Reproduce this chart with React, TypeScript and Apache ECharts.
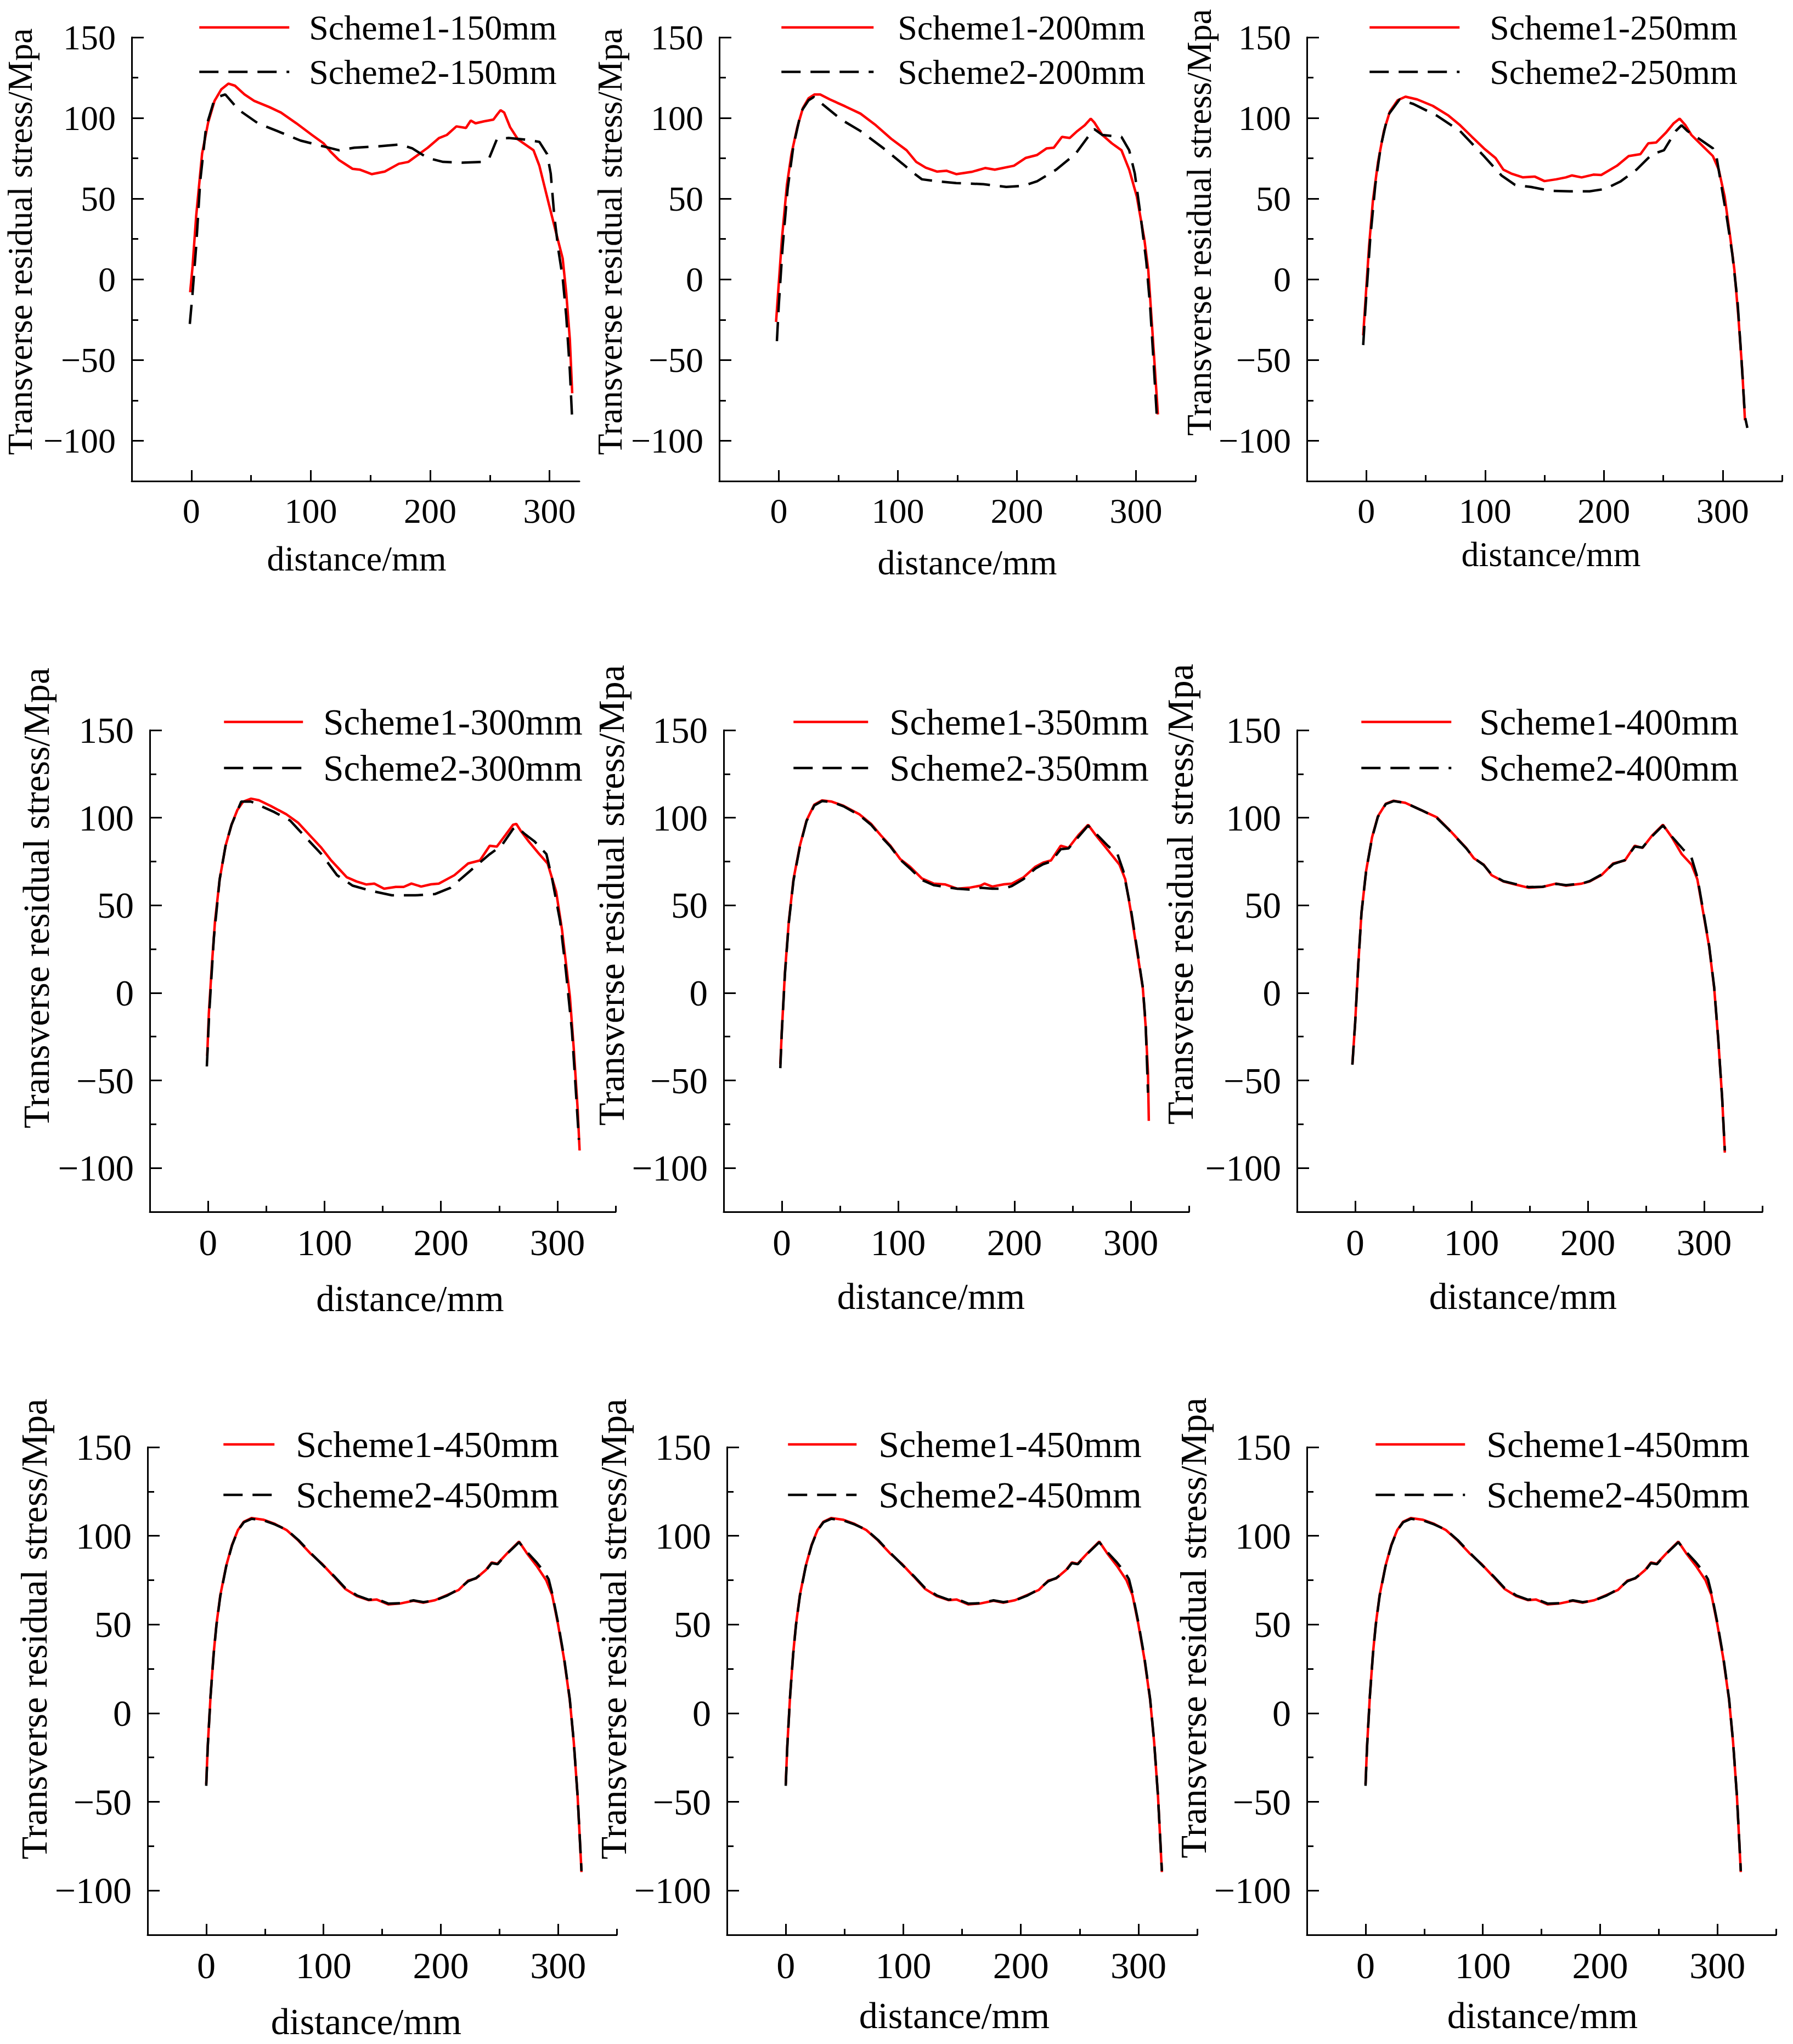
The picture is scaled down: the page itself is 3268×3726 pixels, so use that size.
import * as echarts from 'echarts';
import React, { useEffect, useRef } from 'react';

type Pt = [number, number];

// Transverse residual stress (MPa) against distance (mm).
const s1_150: Pt[] = [
  [-1, -8], [1, 8], [4, 39], [9, 78], [14, 97], [19.4, 110.6], [25, 117.7], [31, 121.3], [36.5, 120],
  [44.5, 114.6], [52.6, 110.6], [65.5, 106.7], [75, 103.4], [88, 96.7], [101, 89.5], [110.7, 84.3],
  [117, 78.8], [123.6, 74], [135, 68.5], [141, 68], [151, 65.2], [162, 66.8], [173.7, 71.6], [181.7, 72.8],
  [191.4, 78], [198, 81.6], [207.5, 87.6], [214, 89.5], [222, 94.8], [230, 93.8], [234, 98.4], [238, 96.7],
  [245, 97.9], [253, 99], [256, 102], [259, 104.8], [262, 103.4], [267, 94.3], [273.6, 86.7], [286.6, 80],
  [291.5, 70.4], [299.5, 46.5], [306, 27.4], [311, 13], [314, -8.5], [317, -37], [319, -70.6],
];
const s2_150: Pt[] = [
  [-1.3, -27.6], [1, -8.5], [4, 20.2], [7.4, 60.8], [12.3, 94.3], [18.7, 110], [24, 113.5], [28.4, 114.6],
  [39.7, 105], [55.8, 96.7], [72, 91.9], [91.4, 86], [110.7, 82.4], [123.6, 80], [136.5, 81.6], [156, 82.4],
  [175, 83.6], [185, 81.2], [198, 75.2], [210.8, 72.8], [227, 72.3], [243, 72.8], [249.5, 75.2], [256, 87],
  [265.7, 87.6], [278.6, 86.7], [291.5, 85.2], [298, 77.6], [301, 65.6], [304, 39.3], [307.5, 17.8], [311, 1],
  [314, -22.8], [317, -56.3], [319, -87.3],
];

const s1_200: Pt[] = [
  [-2.3, -26.4], [-0.6, -8.5], [2.6, 25], [6.8, 58.5], [10.6, 77.6], [15.5, 94.3], [20.3, 106.3], [25, 112.2],
  [30, 114.6], [34.8, 114.6], [42.9, 111.5], [55.8, 107.2], [68.6, 102.7], [81.5, 95.5], [94.4, 87.1],
  [107.3, 80], [115.4, 72.8], [123.4, 69.2], [133, 66.8], [141, 67.3], [149, 65.2], [162, 66.6], [173.3, 69],
  [181.4, 68], [197.5, 70.4], [207.2, 75.2], [217, 77.1], [225, 81.2], [231, 81.6], [237.8, 88.3], [244.3, 87.6],
  [250.7, 91.9], [257, 95.5], [262, 99.6], [265, 97.2], [271.7, 89.5], [279.7, 84.3], [287.8, 80], [294.3, 68],
  [300.7, 51.3], [307, 25], [310.3, 5.9], [313.6, -30], [316.8, -65.8], [318.4, -83.7],
];
const s2_200: Pt[] = [
  [-1.6, -38.3], [0, -15.6], [3.2, 20.2], [7.4, 56], [12.2, 82.4], [18.7, 103.9], [25, 111], [29.3, 113],
  [36.4, 108.7], [52.5, 99], [68.6, 91.9], [88, 81.2], [104, 71.6], [113.7, 65.6], [120.2, 62], [133, 60.8],
  [149, 59.7], [171.8, 59], [191, 57.3], [205.6, 58], [217, 60.8], [233, 68], [249, 77.6], [260.4, 89],
  [265, 93.1], [271.7, 89.5], [287.8, 88.3], [294.3, 80], [299, 65.6], [303.9, 39.3], [308.7, 10.7], [312, -18],
  [315, -53.9], [317.4, -83.7],
];

const s1_250: Pt[] = [
  [-2.6, -34.7], [-0.7, -13.2], [2.3, 20.2], [5.6, 48.9], [9.9, 72.8], [14.8, 91.9], [19.8, 103.9], [26.4, 111],
  [33, 113.2], [42.9, 111.5], [56, 107.5], [69.2, 101.5], [79, 95.5], [89, 88.3], [99, 81.2], [108.8, 75.2],
  [115.4, 68], [122, 65.6], [131.9, 63.2], [141.8, 63.7], [150, 60.9], [159.9, 62], [168, 63.2], [173, 64.4],
  [181.3, 63.2], [191.2, 64.9], [197.8, 64.7], [211, 70.4], [220.9, 76.4], [230.8, 77.6], [237.4, 84.3],
  [244, 84.8], [252, 90.7], [258.8, 96.7], [263.8, 99.6], [268.7, 95.5], [273.7, 89.5], [283.5, 82.4],
  [291.8, 76.4], [296.7, 68], [301.7, 51.3], [306.6, 25], [309.9, 5.9], [313.2, -22.8], [316.5, -56.3],
  [318.8, -87.3],
];
const s2_250: Pt[] = [
  [-2.6, -40.7], [-0.7, -18], [3.3, 25], [7.6, 58.5], [12.2, 82.4], [18.1, 101.5], [28, 111.5], [39.6, 108.7],
  [59.3, 101.5], [79, 91.9], [99, 76.4], [113.8, 64.4], [125.3, 58.5], [138.5, 57.3], [155, 54.9],
  [171.5, 54.6], [188, 54.6], [201, 56], [214.3, 60.8], [227.5, 68], [240.7, 77.6], [250.6, 80], [260.5, 91.9],
  [265.4, 95.5], [270.4, 91.9], [280.3, 87.1], [291.8, 81.2], [295, 75.2], [298.3, 60.8], [303.3, 39.3],
  [308.2, 15.4], [312.5, -13.2], [315.8, -49], [318.8, -85], [320.8, -92],
];

const s1_300: Pt[] = [
  [-0.7, -36], [0.7, -12], [3.4, 16.8], [6, 40.8], [10, 64.8], [15.1, 84], [20.2, 96], [25.2, 104.4],
  [30.2, 109.2], [37, 110.9], [43.7, 110], [53.7, 106.8], [67.2, 102], [77.3, 97.2], [87.3, 90], [97.4, 82.8],
  [105.8, 75.6], [112.5, 70.8], [119.2, 66], [127.6, 63.6], [136, 61.9], [142.8, 62.4], [151.2, 59.5],
  [161.2, 60.5], [168, 60.5], [174.7, 62.4], [183, 60.7], [191.5, 62], [198.2, 62.4], [211.6, 67.2],
  [223.4, 73.9], [233.5, 75.6], [241.9, 84], [248, 83.5], [255.3, 90], [262, 96], [264.7, 96.5], [268.7, 92.4],
  [275.5, 86.4], [283.9, 79.7], [291.6, 73.9], [299, 57.6], [304, 36], [307.4, 16.8], [310.8, -2.4],
  [314, -31.1], [317.5, -67.1], [319.1, -90],
];
const s2_300: Pt[] = [
  [-1, -42], [1, -12], [5, 31.2], [10, 64.8], [15.1, 84], [20.2, 96], [28.5, 109.2], [37, 109.2], [57, 103.2],
  [70.5, 98.4], [83.9, 88.8], [97.4, 79.2], [110.8, 67.2], [124.3, 61.2], [141, 58.1], [157.9, 55.7],
  [178, 55.7], [194.8, 56.4], [208.2, 60], [225, 69.6], [241.9, 79.2], [252, 84], [262, 93.6], [265.4, 94.8],
  [272, 90.7], [280.5, 86.4], [290.6, 79.2], [295.6, 64.8], [302.4, 40.8], [307.4, 12], [312.5, -21.5],
  [315.8, -55.1], [318.5, -83.9],
];

const s1_350: Pt[] = [
  [-1.3, -40.7], [0, -21.5], [2.7, 12], [6, 40.8], [10, 64.8], [15.5, 84], [21.2, 98.4], [27.9, 107.5],
  [34.6, 109.9], [43, 109.2], [53.1, 106.8], [66.6, 102], [76.7, 96.5], [85, 90], [93.4, 84], [101.9, 76.3],
  [110.3, 72], [120.4, 65.3], [130.5, 62.4], [140.6, 61.9], [150.7, 59.5], [160.8, 60], [170.8, 61.2],
  [174.2, 62.4], [180.9, 60.7], [191, 62], [197.8, 62.4], [207.9, 66], [218, 72], [224.7, 74.4], [231.4, 75.6],
  [239.8, 84], [246.5, 82.8], [254.9, 90], [263.3, 96], [270, 90], [280.2, 81.6], [290.3, 73.2], [295.3, 64.8],
  [300.3, 45.6], [305.4, 24], [310.4, 2.4], [312.8, -19.2], [314.8, -45.5], [315.5, -73.1],
];
const s2_350: Pt[] = [
  [-1.3, -43], [0, -22], [2.7, 11], [6, 40], [10, 64], [15.5, 83.5], [21.2, 98], [27.9, 107], [34.6, 109.5],
  [43, 109], [53.1, 106.5], [66.6, 101.5], [76.7, 96], [85, 89.5], [93.4, 83.5], [101.9, 76], [110.3, 71],
  [120.4, 64.5], [130.5, 61.5], [140.6, 60.5], [150.7, 59.5], [160.8, 59], [170.8, 60], [180.9, 59.5],
  [191, 59.5], [197.8, 61], [207.9, 65], [218, 71], [224.7, 73.5], [231.4, 75], [239.8, 82], [246.5, 82.5],
  [254.9, 89], [263.3, 95.5], [270, 91], [280.2, 84], [288.6, 79.2], [293.6, 69.6], [300.3, 47], [305.4, 25],
  [310.4, 3], [312.8, -18], [314.8, -57],
];

const s1_400: Pt[] = [
  [-2.4, -40.7], [0, -16.8], [2.7, 16.8], [5.4, 45.6], [9.4, 69.6], [14.5, 88.8], [19.5, 100.8], [26.3, 108],
  [33, 109.7], [43.1, 108.5], [56.6, 104.4], [70.1, 100.3], [80.2, 93.6], [86.9, 88.8], [95.4, 82.8],
  [102.1, 76.8], [110.5, 73.2], [117.3, 67.2], [127.4, 63.6], [137.5, 61.9], [149.3, 60], [161.1, 60.5],
  [172.9, 62.4], [181.3, 61.2], [194.8, 62.4], [201.6, 63.6], [211.7, 67.2], [221.8, 73.9], [231.9, 75.6],
  [240.3, 84], [247, 82.8], [255.5, 90], [264.6, 96], [272.3, 88.8], [280.8, 79.2], [289.2, 73.2],
  [294.2, 64.8], [299.3, 45.6], [304.3, 26.4], [308.7, 2.4], [312.1, -26.4], [315.5, -60], [317.8, -91.2],
];
const s2_400: Pt[] = [
  [-2.4, -41], [0, -17], [2.7, 16.5], [5.4, 45.5], [9.4, 69.5], [14.5, 88.5], [19.5, 100.5], [26.3, 107.8],
  [33, 109.5], [43.1, 108.5], [56.6, 104.4], [70.1, 100], [80.2, 93.4], [86.9, 88.6], [95.4, 82.6],
  [102.1, 77], [110.5, 73], [117.3, 67.6], [127.4, 63.8], [137.5, 62.2], [149.3, 60.4], [161.1, 60.6],
  [172.9, 62.2], [181.3, 61.5], [194.8, 62.4], [201.6, 63.8], [211.7, 67.5], [221.8, 73.5], [231.9, 75.8],
  [240.3, 83.5], [247, 83], [255.5, 89.6], [264.6, 95.6], [272.3, 89.2], [282.4, 81.6], [289, 77.5],
  [294.2, 66], [299.3, 46.5], [304.3, 27], [308.7, 3], [312.1, -26], [315.5, -60], [317.8, -90],
];

const s1_450: Pt[] = [
  [0, -40], [1.3, -18.6], [3.7, 9.7], [6.3, 33.4], [8.7, 50], [12, 66.5], [17, 83], [22, 94.9], [27, 103.2],
  [32, 107.9], [38.6, 110], [48.6, 109.1], [58.6, 106.7], [68.6, 103.2], [78.6, 97.3], [88.6, 90.2],
  [98.6, 84.3], [108.6, 77.2], [118.5, 70.1], [128.5, 66], [138.5, 63.7], [145.2, 64.1], [155.2, 61.3],
  [165.2, 61.8], [176.8, 63.4], [185.1, 62.3], [195.1, 63.7], [205.1, 66.5], [215.1, 69.4], [223.4, 74.8],
  [230.1, 76], [238.4, 80.7], [243.4, 85], [248.4, 84.3], [256.7, 90.2], [266.7, 96.8], [273.4, 90.2],
  [281.7, 83.1], [290, 74.8], [295, 66.5], [300, 50], [305, 31.1], [310, 7.4], [313.4, -16.3], [316.7, -47],
  [320, -89.6],
];
const s2_450: Pt[] = [
  [0, -41], [1.3, -19], [3.7, 9.5], [6.3, 33], [8.7, 49.5], [12, 66], [17, 82.7], [22, 94.6], [27, 103],
  [32, 107.6], [38.6, 109.6], [48.6, 108.8], [58.6, 106.4], [68.6, 103.4], [78.6, 97.6], [88.6, 90.6],
  [98.6, 84], [108.6, 77.6], [118.5, 70.6], [128.5, 66.4], [138.5, 64], [145.2, 64.4], [155.2, 61.8],
  [165.2, 62], [176.8, 63.6], [185.1, 62.6], [195.1, 63.6], [205.1, 66.2], [215.1, 69.8], [223.4, 74.4],
  [230.1, 76.2], [238.4, 80.4], [243.4, 84.6], [248.4, 84], [256.7, 90], [266.7, 96.4], [273.4, 91],
  [281.7, 85], [288.4, 79.5], [292, 75.5], [295, 67.5], [300, 51], [305, 32], [310, 8], [313.4, -16],
  [316.7, -47], [320, -89],
];

// Tick values shared by all nine panels.
const X_MAJOR = [0, 100, 200, 300];
const X_MINOR = [50, 150, 250, 350];
const Y_MAJOR = [-100, -50, 0, 50, 100, 150];
const Y_MINOR = [-75, -25, 25, 75, 125];

const FONT = '"Liberation Serif", "Times New Roman", serif';

// Panel layout in page pixels.
// box: plot area [left, top, right, bottom]; leg: [left, y1, y2, iconWidth, textGap];
// yName: [gap, shift up]; xName: [gap, shift right]; fs: text size; fy: y-title size.
const PANELS = [
  { tag: '150mm', s1: s1_150, s2: s2_150, box: [240, 68, 1056, 877], xMax: 325, fs: 64, fy: 63, lh: 70,
    leg: [361, 50, 131, 164, 36], yName: [172, 32], xName: [109, 2] },
  { tag: '200mm', s1: s1_200, s2: s2_200, box: [1311, 68, 2179, 877], xMax: 350, fs: 64, fy: 63, lh: 70,
    leg: [1422, 50, 131, 168, 44], yName: [168, 32], xName: [116, 18] },
  { tag: '250mm', s1: s1_250, s2: s2_250, box: [2382, 68, 3248, 877], xMax: 350, fs: 64, fy: 63, lh: 70,
    leg: [2494, 50, 131, 164, 55], yName: [161, 67], xName: [101, 12] },
  { tag: '300mm', s1: s1_300, s2: s2_300, box: [273, 1331, 1122, 2209], xMax: 350, fs: 67, fy: 68, lh: 76,
    leg: [406, 1316, 1400, 144, 37], yName: [173, 133], xName: [124, 50] },
  { tag: '350mm', s1: s1_350, s2: s2_350, box: [1319, 1331, 2167, 2209], xMax: 350, fs: 67, fy: 68, lh: 76,
    leg: [1444, 1316, 1400, 136, 39], yName: [157, 138], xName: [120, -46] },
  { tag: '400mm', s1: s1_400, s2: s2_400, box: [2364, 1331, 3212, 2209], xMax: 350, fs: 67, fy: 68, lh: 76,
    leg: [2479, 1316, 1400, 164, 51], yName: [179, 140], xName: [120, -12] },
  { tag: '450mm', s1: s1_450, s2: s2_450, box: [269, 2638, 1124, 3527], xMax: 350, fs: 68, fy: 68, lh: 78,
    leg: [405, 2633, 2725, 93, 39], yName: [164, 113], xName: [124, -29] },
  { tag: '450mm', s1: s1_450, s2: s2_450, box: [1325, 2638, 2182, 3527], xMax: 350, fs: 68, fy: 68, lh: 78,
    leg: [1434, 2633, 2725, 125, 40], yName: [159, 113], xName: [113, -14] },
  { tag: '450mm', s1: s1_450, s2: s2_450, box: [2382, 2638, 3237, 3527], xMax: 350, fs: 68, fy: 68, lh: 78,
    leg: [2505, 2633, 2725, 163, 39], yName: [161, 115], xName: [113, 2] },
];

const LINE_W = 4.5;
const axisLineStyle = { color: '#000', width: 3 };
const txt = (fontSize: number) => ({ color: '#000', fontFamily: FONT, fontSize });
const minus = (v: number) => String(v).replace('-', '\u2212');
const shiftPad = (s: number) => (s >= 0 ? [0, 0, 0, 2 * s] : [0, -2 * s, 0, 0]);

const App: React.FC = () => {
  const ref = useRef<HTMLDivElement>(null);

  useEffect(() => {
    if (!ref.current) return undefined;
    const chart = echarts.init(ref.current, undefined, { renderer: 'svg' });

    const grid = PANELS.map((p) => ({
      left: p.box[0],
      top: p.box[1],
      width: p.box[2] - p.box[0],
      height: p.box[3] - p.box[1],
      containLabel: false,
      outerBoundsMode: 'none',
    }));

    const xAxis = PANELS.flatMap((p, i) => [
      {
        type: 'value', gridIndex: i, position: 'bottom', min: -50, max: p.xMax,
        axisLine: { onZero: false, lineStyle: axisLineStyle },
        axisTick: { inside: true, length: 20, lineStyle: axisLineStyle, customValues: X_MAJOR },
        axisLabel: { ...txt(p.fs), margin: 22, customValues: X_MAJOR },
        splitLine: { show: false },
        name: 'distance/mm', nameLocation: 'middle', nameGap: p.xName[0],
        nameTextStyle: { ...txt(p.fs), padding: shiftPad(p.xName[1]) },
      },
      {
        type: 'value', gridIndex: i, position: 'bottom', min: -50, max: p.xMax,
        axisLine: { show: false, onZero: false },
        axisTick: { inside: true, length: 11, lineStyle: axisLineStyle,
          customValues: X_MINOR.filter((v) => v <= p.xMax) },
        axisLabel: { show: false },
        splitLine: { show: false },
      },
    ]);

    const yAxis = PANELS.flatMap((p, i) => [
      {
        type: 'value', gridIndex: i, position: 'left', min: -125, max: 150,
        axisLine: { onZero: false, lineStyle: axisLineStyle },
        axisTick: { inside: true, length: 22, lineStyle: axisLineStyle, customValues: Y_MAJOR },
        axisLabel: { ...txt(p.fs), margin: 29, customValues: Y_MAJOR, formatter: minus },
        splitLine: { show: false },
        name: 'Transverse residual stress/Mpa', nameLocation: 'middle', nameRotate: 90,
        nameGap: p.yName[0],
        nameTextStyle: { ...txt(p.fy), padding: [0, 0, 0, 2 * p.yName[1]] },
      },
      {
        type: 'value', gridIndex: i, position: 'left', min: -125, max: 150,
        axisLine: { show: false, onZero: false },
        axisTick: { inside: true, length: 12, lineStyle: axisLineStyle, customValues: Y_MINOR },
        axisLabel: { show: false },
        splitLine: { show: false },
      },
    ]);

    const legend = PANELS.map((p) => ({
      orient: 'vertical',
      left: p.leg[0],
      top: p.leg[1] - p.lh / 2,
      itemGap: p.leg[2] - p.leg[1] - p.lh,
      itemWidth: p.leg[3],
      itemHeight: 20,
      padding: 0,
      selectedMode: false,
      itemStyle: { opacity: 0, borderWidth: 0 },
      lineStyle: { width: LINE_W },
      data: [`Scheme1-${p.tag}`, `Scheme2-${p.tag}`],
      textStyle: { ...txt(p.fs), lineHeight: p.lh, padding: [0, 0, 0, p.leg[4] - 5] },
    }));

    const series = PANELS.flatMap((p, i) => [
      {
        type: 'line', name: `Scheme1-${p.tag}`, xAxisIndex: 2 * i, yAxisIndex: 2 * i,
        data: p.s1, symbol: 'none', showSymbol: false, z: 2,
        lineStyle: { color: '#ff0000', width: LINE_W }, itemStyle: { color: '#ff0000' },
      },
      {
        type: 'line', name: `Scheme2-${p.tag}`, xAxisIndex: 2 * i, yAxisIndex: 2 * i,
        data: p.s2, symbol: 'none', showSymbol: false, z: 3,
        lineStyle: { color: '#000', width: LINE_W, type: [35, 18] }, itemStyle: { color: '#000' },
      },
    ]);

    chart.setOption({
      animation: false,
      backgroundColor: '#fff',
      textStyle: { fontFamily: FONT },
      grid,
      xAxis,
      yAxis,
      legend,
      series,
    });

    return () => chart.dispose();
  }, []);

  return <div ref={ref} style={{ position: 'absolute', left: 0, top: 0, width: 3268, height: 3726 }} />;
};

export default App;
